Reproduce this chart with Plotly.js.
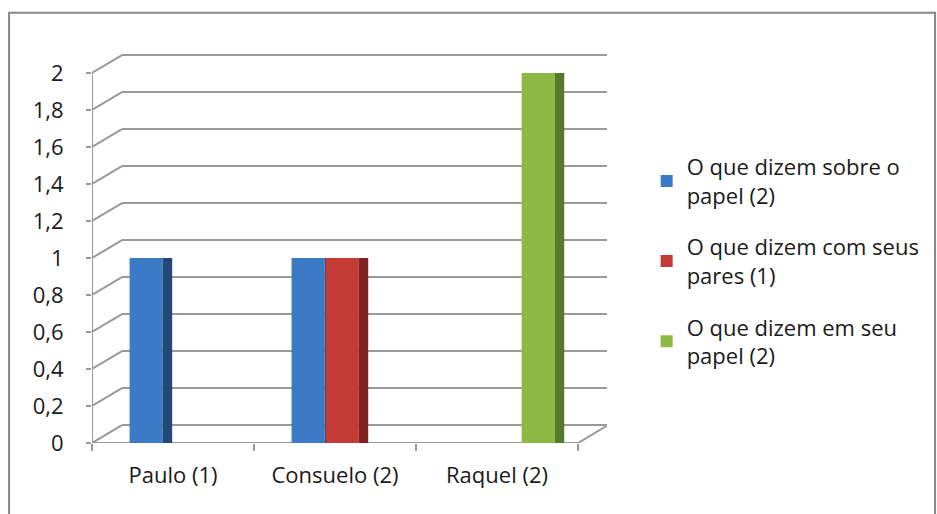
<!DOCTYPE html>
<html>
<head>
<meta charset="utf-8">
<script src="https://cdn.plot.ly/plotly-3.0.1.min.js"></script>
<style>html,body{margin:0;padding:0;background:#fff;}#chart{width:937px;height:514px;}</style>
</head>
<body>
<div id="chart"></div>
<script>
// ---- data ----
var categories = ['Paulo (1)', 'Consuelo (2)', 'Raquel (2)'];
var seriesNames = ['O que dizem sobre o<br>papel (2)', 'O que dizem com seus<br>pares (1)', 'O que dizem em seu<br>papel (2)'];
var sobrePapel = [1, 1, null];
var comPares = [null, 1, null];
var emSeuPapel = [null, null, 2];
var yTickVals = [0, 0.2, 0.4, 0.6, 0.8, 1, 1.2, 1.4, 1.6, 1.8, 2];
var yTickText = ['0', '0,2', '0,4', '0,6', '0,8', '1', '1,2', '1,4', '1,6', '1,8', '2'];

// ---- style ----
var frontColors = ['#3b7bc6', '#c43a34', '#8db843'];
var sideColors = ['#22477a', '#7e2320', '#58782a'];
var offsets = [-0.268, -0.058, 0.152];
var faceW = 0.205, sideW = 0.058;
var dx = 0.185, dy = 0.097; // depth of the 3D box, axis units
var FONT = '"Open Sans", "Noto Sans", sans-serif';
var FS = 22;
var gridCol = '#999999';

var seriesData = [sobrePapel, comPares, emSeuPapel];
var traces = [];
for (var i = 0; i < 3; i++) {
  traces.push({
    type: 'bar', x: categories, y: seriesData[i], name: seriesNames[i],
    offset: offsets[i], width: faceW,
    marker: {color: frontColors[i], line: {width: 0}},
    legendgroup: 'g' + i, hoverinfo: 'x+y'
  });
  traces.push({
    type: 'bar', x: categories, y: seriesData[i], name: seriesNames[i],
    offset: offsets[i] + faceW, width: sideW,
    marker: {color: sideColors[i], line: {width: 0}},
    legendgroup: 'g' + i, showlegend: false, hoverinfo: 'skip'
  });
}

var shapes = [];
var x0 = -0.5, x1 = categories.length - 0.5;
yTickVals.forEach(function (v) {
  shapes.push({type: 'line', xref: 'x', yref: 'y', x0: x0 + dx, x1: x1 + dx, y0: v + dy, y1: v + dy,
    line: {color: gridCol, width: 2}, layer: 'below'});
  shapes.push({type: 'line', xref: 'x', yref: 'y', x0: x0, x1: x0 + dx, y0: v, y1: v + dy,
    line: {color: gridCol, width: 2}, layer: 'below'});
});
// front floor edge and right floor edge
shapes.push({type: 'line', xref: 'x', yref: 'y', x0: x0, x1: x1, y0: 0, y1: 0, line: {color: gridCol, width: 2}, layer: 'below'});
shapes.push({type: 'line', xref: 'x', yref: 'y', x0: x1, x1: x1 + dx, y0: 0, y1: dy, line: {color: gridCol, width: 2}, layer: 'below'});
// vertical axis line
shapes.push({type: 'line', xref: 'x', yref: 'y', x0: x0, x1: x0, y0: 0, y1: 2, line: {color: gridCol, width: 2}, layer: 'below'});
// outer chart border
shapes.push({type: 'rect', xref: 'paper', yref: 'paper', x0: -0.161, x1: 1.637, y0: -0.2, y1: 1.103,
  line: {color: '#878787', width: 2}, fillcolor: 'rgba(0,0,0,0)', layer: 'below'});

var layout = {
  width: 937, height: 514,
  margin: {l: 92, r: 330, t: 53, b: 71},
  paper_bgcolor: '#ffffff', plot_bgcolor: 'rgba(0,0,0,0)',
  separators: ',.',
  barmode: 'overlay',
  font: {family: FONT, size: FS, color: '#1a1a1a'},
  xaxis: {
    type: 'category', range: [x0, x1 + 0.179],
    showgrid: false, zeroline: false, showline: false,
    ticks: 'outside', tickson: 'boundaries', ticklen: 7, tickwidth: 2, tickcolor: gridCol,
    ticklabelstandoff: 17,
    tickfont: {family: FONT, size: FS, color: '#1a1a1a'}
  },
  yaxis: {
    range: [0, 2.108], tickvals: yTickVals, ticktext: yTickText,
    showgrid: false, zeroline: false, showline: false,
    ticks: 'outside', ticklen: 5, tickwidth: 2, tickcolor: gridCol,
    ticklabelstandoff: 18,
    tickfont: {family: FONT, size: FS, color: '#1a1a1a'}
  },
  legend: {
    x: 1.077, y: 0.762, xanchor: 'left', yanchor: 'top',
    font: {family: FONT, size: FS, color: '#1a1a1a'},
    tracegroupgap: 20, traceorder: 'grouped',
    bgcolor: 'rgba(0,0,0,0)', itemwidth: 30
  },
  shapes: shapes,
  showlegend: true
};

Plotly.newPlot('chart', traces, layout, {displayModeBar: false, staticPlot: true});
</script>
</body>
</html>
